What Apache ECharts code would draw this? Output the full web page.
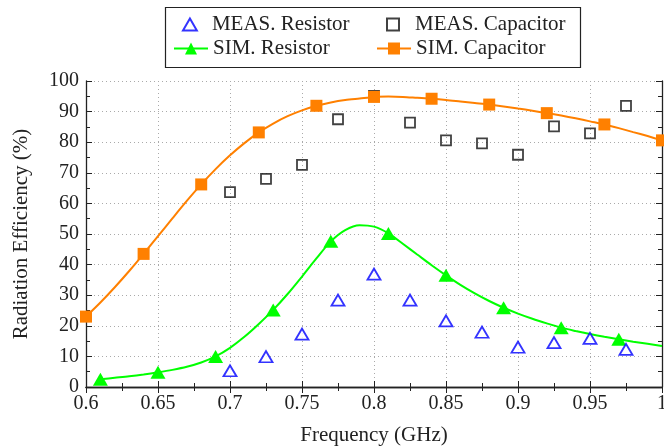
<!DOCTYPE html>
<html>
<head>
<meta charset="utf-8">
<script src="https://cdn.jsdelivr.net/npm/echarts@6/dist/echarts.min.js"></script>
<style>
  html, body { margin: 0; padding: 0; background: #fff; }
  #chart { width: 664px; height: 446px; }
</style>
</head>
<body>
<div id="chart"></div>
<script>
// Measured radiation efficiency (%) at 25 MHz steps
const measFreq = [0.7, 0.725, 0.75, 0.775, 0.8, 0.825, 0.85, 0.875, 0.9, 0.925, 0.95, 0.975];
const measResistor = [5.3, 9.9, 17.3, 28.4, 36.9, 28.4, 21.6, 17.9, 13.0, 14.5, 15.9, 12.3];
const measCapacitor = [63.7, 68.0, 72.6, 87.5, 95.1, 86.4, 80.6, 79.6, 75.9, 85.2, 82.9, 91.9];

// Simulated curves (10 MHz steps)
const simResFreq = [0.61, 0.62, 0.63, 0.64, 0.65, 0.66, 0.67, 0.68, 0.69, 0.70,
  0.71, 0.72, 0.73, 0.74, 0.75, 0.76, 0.77, 0.78, 0.79, 0.80,
  0.81, 0.82, 0.83, 0.84, 0.85, 0.86, 0.87, 0.88, 0.89, 0.90,
  0.91, 0.92, 0.93, 0.94, 0.95, 0.96, 0.97, 0.98, 0.99, 1.00];
const simResistor = [2.5, 3.0, 3.5, 4.1, 4.8, 5.6, 6.6, 8.0, 10.0, 12.8,
  16.4, 20.6, 25.2, 30.4, 36.1, 42.0, 47.6, 51.3, 52.9, 52.4,
  50.2, 46.8, 43.3, 39.8, 36.5, 33.4, 30.6, 28.1, 25.9, 24.0,
  22.3, 20.8, 19.4, 18.3, 17.3, 16.4, 15.6, 14.8, 14.1, 13.4];
const simResMarkers = [0.61, 0.65, 0.69, 0.73, 0.77, 0.81, 0.85, 0.89, 0.93, 0.97];

const simCapFreq = [0.60, 0.61, 0.62, 0.63, 0.64, 0.65, 0.66, 0.67, 0.68, 0.69, 0.70,
  0.71, 0.72, 0.73, 0.74, 0.75, 0.76, 0.77, 0.78, 0.79, 0.80,
  0.81, 0.82, 0.83, 0.84, 0.85, 0.86, 0.87, 0.88, 0.89, 0.90,
  0.91, 0.92, 0.93, 0.94, 0.95, 0.96, 0.97, 0.98, 0.99, 1.00];
const simCapacitor = [23.0, 27.6, 32.6, 37.9, 43.5, 49.3, 55.1, 60.8, 66.2, 71.2, 75.7,
  79.7, 83.2, 86.1, 88.5, 90.4, 91.9, 93.0, 93.8, 94.3, 94.8,
  94.9, 94.8, 94.5, 94.2, 93.8, 93.3, 92.8, 92.3, 91.7, 91.0,
  90.3, 89.5, 88.7, 87.8, 86.8, 85.8, 84.6, 83.3, 82.0, 80.6];
const simCapMarkers = [0.60, 0.64, 0.68, 0.72, 0.76, 0.80, 0.84, 0.88, 0.92, 0.96, 1.00];

const FONT = '"Liberation Serif", "DejaVu Serif", serif';
const TXT = '#222';
const NUM_SIZE = 20;
const TEXT_SIZE = 21;

// Legend glyphs that keep their aspect ratio inside the icon box
const TRI_ICON = 'path://M0,-1L0.866,0.5L-0.866,0.5Z';
const SQ_ICON = 'path://M0,0H1V1H0Z';

function curve(freq, vals, markers) {
  return freq.map((f, i) => {
    const item = { value: [f, vals[i]] };
    if (!markers.some(m => Math.abs(m - f) < 1e-6)) item.symbol = 'none';
    return item;
  });
}
function pairs(freq, vals) { return freq.map((f, i) => [f, vals[i]]); }

function legendEntry(name, left, top, itemHeight, icon) {
  const entry = { name };
  if (icon) entry.icon = icon;
  return {
    orient: 'vertical', left, top,
    itemWidth: 34, itemHeight,
    textStyle: { fontFamily: FONT, fontSize: TEXT_SIZE, color: TXT },
    data: [entry]
  };
}

const chart = echarts.init(document.getElementById('chart'), null, { renderer: 'canvas' });

const tickStyle = { lineStyle: { color: '#222' } };
const frameLine = { show: true, lineStyle: { color: '#222', width: 1.3 } };

chart.setOption({
  animation: false,
  backgroundColor: '#fff',
  textStyle: { fontFamily: FONT },
  grid: { left: 86, right: 2, top: 81, bottom: 59, containLabel: false, outerBoundsMode: 'none' },
  legend: [
    legendEntry('MEAS. Resistor', 177, 9, 12, TRI_ICON),
    legendEntry('SIM. Resistor', 168, 33, 15),
    legendEntry('MEAS. Capacitor', 381, 9, 12, SQ_ICON),
    legendEntry('SIM. Capacitor', 371, 33, 15)
  ],
  graphic: [{
    type: 'rect', left: 163, top: 5,
    shape: { width: 415, height: 60 },
    style: { fill: 'none', stroke: '#222', lineWidth: 1.2 },
    silent: true
  }],
  xAxis: [
    {
      type: 'value', min: 0.6, max: 1, interval: 0.05,
      name: 'Frequency (GHz)', nameLocation: 'middle', nameGap: 38,
      nameTextStyle: { fontFamily: FONT, fontSize: TEXT_SIZE, color: TXT },
      axisLine: frameLine,
      axisTick: { inside: true, length: 6, ...tickStyle },
      minorTick: { show: true, splitNumber: 2, length: 4, ...tickStyle },
      axisLabel: { fontFamily: FONT, fontSize: NUM_SIZE, color: TXT, margin: 7 },
      splitLine: { show: true, lineStyle: { color: '#aaa', type: [1, 3], width: 1 } }
    },
    {
      type: 'value', position: 'top', min: 0.6, max: 1, interval: 0.05,
      axisLine: frameLine,
      axisTick: { inside: true, length: 6, ...tickStyle },
      minorTick: { show: true, splitNumber: 2, length: 4, ...tickStyle },
      axisLabel: { show: false }, splitLine: { show: false }
    }
  ],
  yAxis: [
    {
      type: 'value', min: 0, max: 100, interval: 10,
      name: 'Radiation Efficiency (%)', nameLocation: 'middle', nameGap: 54,
      nameTextStyle: { fontFamily: FONT, fontSize: TEXT_SIZE, color: TXT },
      axisLine: frameLine,
      axisTick: { show: true, inside: true, length: 6, ...tickStyle },
      minorTick: { show: true, splitNumber: 2, length: 4, ...tickStyle },
      axisLabel: { fontFamily: FONT, fontSize: NUM_SIZE, color: TXT, margin: 7 },
      splitLine: { show: true, lineStyle: { color: '#aaa', type: [1, 3], width: 1 } }
    },
    {
      type: 'value', position: 'right', min: 0, max: 100, interval: 10,
      axisLine: frameLine,
      axisTick: { show: true, inside: true, length: 6, ...tickStyle },
      minorTick: { show: true, splitNumber: 2, length: 4, ...tickStyle },
      axisLabel: { show: false }, splitLine: { show: false }
    }
  ],
  series: [
    {
      name: 'SIM. Capacitor', type: 'line', smooth: 0.3,
      data: curve(simCapFreq, simCapacitor, simCapMarkers),
      symbol: 'rect', symbolSize: 12, showAllSymbol: true,
      lineStyle: { color: '#ff8000', width: 2 },
      itemStyle: { color: '#ff8000' }, z: 3
    },
    {
      name: 'SIM. Resistor', type: 'line', smooth: 0.3,
      data: curve(simResFreq, simResistor, simResMarkers),
      symbol: 'triangle', symbolSize: [15, 13], showAllSymbol: true,
      lineStyle: { color: '#00ff00', width: 2 },
      itemStyle: { color: '#00ff00' }, z: 3
    },
    {
      name: 'MEAS. Resistor', type: 'scatter',
      data: pairs(measFreq, measResistor),
      symbol: 'triangle', symbolSize: [13, 11],
      itemStyle: { color: '#fff', borderColor: '#0000ff', borderWidth: 1.8 }, z: 4
    },
    {
      name: 'MEAS. Capacitor', type: 'scatter',
      data: pairs(measFreq, measCapacitor),
      symbol: 'rect', symbolSize: 10,
      itemStyle: { color: 'rgba(255,255,255,0)', borderColor: '#111', borderWidth: 1.8 }, z: 2
    }
  ]
});
</script>
</body>
</html>
